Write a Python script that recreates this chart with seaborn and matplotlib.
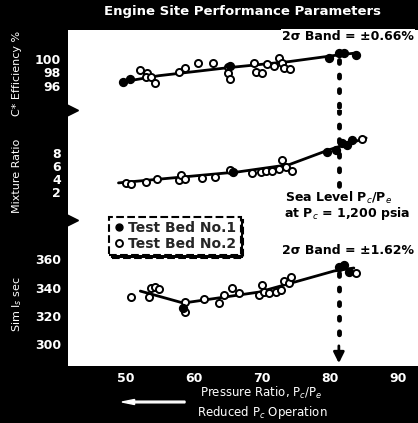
import matplotlib.pyplot as plt
import seaborn as sns
from matplotlib.lines import Line2D

# === data ===
x_ticks = [50, 60, 70, 80, 90]
design_x = 81.3  # sea level Pc/Pe at Pc = 1,200 psia

# C* efficiency, %
eff_ticks = [96, 98, 100]
eff_bed1_x = [49.7, 50.7, 65.4, 79.9, 81.3, 82.1, 83.8]
eff_bed1_y = [96.6, 97.0, 98.9, 100.1, 100.9, 100.9, 100.6]
eff_bed2_x = [52.2, 53.2, 53.1, 53.8, 54.3, 57.8, 58.7, 60.7, 62.9, 65.1, 65.1, 65.3,
              68.8, 69.1, 70.0, 70.7, 71.8, 72.5, 72.9, 73.2, 74.1]
eff_bed2_y = [98.4, 97.9, 97.3, 97.3, 96.4, 98.1, 98.7, 99.4, 99.4, 98.8, 97.9, 97.0,
              99.4, 98.1, 97.9, 99.3, 99.0, 100.1, 99.4, 98.7, 98.5]
eff_fit_x = [49.7, 54.9, 65.1, 74.0, 81.3, 84.0]
eff_fit_y = [96.6, 97.5, 98.7, 99.6, 100.6, 100.9]

# mixture ratio
mr_ticks = [2, 4, 6, 8]
mr_bed1_x = [65.8, 79.6, 80.9, 81.8, 82.5, 83.2]
mr_bed1_y = [5.0, 8.2, 8.5, 9.5, 9.2, 10.0]
mr_bed2_x = [50.1, 50.9, 53.1, 54.6, 57.8, 58.1, 58.8, 61.2, 63.2, 65.4, 68.5, 69.9,
             70.6, 71.5, 72.5, 72.9, 73.5, 74.4, 84.7]
mr_bed2_y = [3.4, 3.2, 3.5, 4.0, 3.8, 4.6, 4.0, 4.2, 4.3, 5.4, 4.9, 5.1,
             5.2, 5.2, 5.5, 6.9, 5.8, 5.2, 10.2]
mr_fit_x = [49.0, 66.6, 74.0, 79.9, 85.3]
mr_fit_y = [3.4, 5.1, 6.2, 8.5, 10.3]

# simulated Is, sec
isp_ticks = [300, 320, 340, 360]
isp_bed1_x = [58.4, 81.3, 82.1, 82.8]
isp_bed1_y = [325.5, 354.4, 355.8, 350.9]
isp_bed2_x = [50.9, 53.4, 53.8, 54.4, 54.9, 58.8, 58.8, 61.5, 63.7, 64.4, 65.6, 66.6,
              69.6, 70.0, 70.3, 71.0, 72.1, 72.8, 73.2, 74.0, 74.3, 83.8]
isp_bed2_y = [333.3, 333.3, 339.6, 340.4, 338.9, 329.8, 322.8, 331.9, 329.1, 334.7, 339.6, 336.1,
              334.7, 341.8, 336.8, 336.1, 336.8, 338.2, 344.6, 343.2, 347.4, 350.2]
isp_fit_x = [52.2, 58.5, 69.6, 80.6, 83.5]
isp_fit_y = [337.5, 329.1, 336.8, 351.6, 353.7]

# === figure ===
sns.set_style("white")
plt.rcParams['font.family'] = ['DejaVu Sans']

fig = plt.figure(figsize=(4.18, 4.23), dpi=100, facecolor='black')
W, H = 418, 423

def px_axes(top, bottom):
    return fig.add_axes([68 / W, 1 - bottom / H, 350 / W, (bottom - top) / H])

ax_eff = px_axes(30, 110)
ax_mr = px_axes(110, 220)
ax_isp = px_axes(220, 366)

panels = [
    (ax_eff, eff_bed1_x, eff_bed1_y, eff_bed2_x, eff_bed2_y, eff_fit_x, eff_fit_y, eff_ticks, (92.4, 104.3)),
    (ax_mr, mr_bed1_x, mr_bed1_y, mr_bed2_x, mr_bed2_y, mr_fit_x, mr_fit_y, mr_ticks, (-2.3, 14.6)),
    (ax_isp, isp_bed1_x, isp_bed1_y, isp_bed2_x, isp_bed2_y, isp_fit_x, isp_fit_y, isp_ticks, (284.9, 387.4)),
]

for ax, b1x, b1y, b2x, b2y, fx, fy, ticks, ylim in panels:
    ax.set_facecolor('white')
    sns.lineplot(x=fx, y=fy, sort=False, estimator=None, color='black', lw=2, ax=ax, zorder=2)
    sns.scatterplot(x=b2x, y=b2y, ax=ax, s=26, color='white', edgecolor='black', linewidth=1.4, zorder=3)
    sns.scatterplot(x=b1x, y=b1y, ax=ax, s=30, color='black', edgecolor='black', linewidth=1.2, zorder=4)
    ax.set_xlim(41.6, 92.9)
    ax.set_ylim(*ylim)
    ax.set_yticks(ticks)
    ax.set_yticklabels([str(t) for t in ticks], color='white', fontsize=9, fontweight='bold')
    ax.tick_params(axis='y', direction='in', length=9, width=1.5, color='black', pad=5)
    for s in ax.spines.values():
        s.set_visible(False)
    ax.set_xlabel('')
    ax.set_ylabel('')

for ax in (ax_eff, ax_mr):
    ax.set_xticks([])

ax_isp.set_xticks(x_ticks)
ax_isp.set_xticklabels([str(t) for t in x_ticks], color='white', fontsize=9, fontweight='bold')
ax_isp.tick_params(axis='x', direction='in', length=12, width=2, color='black', pad=4)

# break notches on left edge
for ax in (ax_mr, ax_isp):
    ax.plot([0], [1], marker='>', ms=14, color='black', transform=ax.transAxes, clip_on=False, zorder=10)

# dotted design line with arrow
dot = dict(color='black', lw=3.5, linestyle=(0, (0.6, 2.4)), dash_capstyle='round', zorder=5)
ax_eff.plot([design_x, design_x], [99.8, 92.4], **dot)
ax_mr.plot([design_x, design_x], [14.6, -2.3], **dot)
ax_isp.plot([design_x, design_x], [350, 300], **dot)
ax_isp.annotate('', xy=(design_x, 284.9), xytext=(design_x, 301),
                arrowprops=dict(arrowstyle='-|>', color='black', lw=2, mutation_scale=16), zorder=6)

# annotations
box = dict(facecolor='white', edgecolor='none', pad=0.5)
ann = dict(va='center', fontsize=9, fontweight='bold', color='black', bbox=box)
fig.text(414 / W, 1 - 36 / H, '2σ Band = ±0.66%', ha='right', **ann)
fig.text(285 / W, 1 - 198 / H, 'Sea Level P$_c$/P$_e$', ha='left', **ann)
fig.text(284 / W, 1 - 213 / H, 'at P$_c$ = 1,200 psia', ha='left', **ann)
fig.text(414 / W, 1 - 250 / H, '2σ Band = ±1.62%', ha='right', **ann)

# title and axis labels
fig.text(242 / W, 1 - 12 / H, 'Engine Site Performance Parameters', ha='center', va='center',
         fontsize=9.5, fontweight='bold', color='white')
fig.text(17 / W, 1 - 73 / H, 'C* Efficiency %', rotation=90, ha='center', va='center', fontsize=8, color='white')
fig.text(17 / W, 1 - 176 / H, 'Mixture Ratio', rotation=90, ha='center', va='center', fontsize=8, color='white')
fig.text(17 / W, 1 - 304 / H, 'Sim I$_s$ sec', rotation=90, ha='center', va='center', fontsize=8, color='white')
fig.text(261 / W, 1 - 393 / H, 'Pressure Ratio, P$_c$/P$_e$', ha='center', va='center', fontsize=8.5, color='white')
fig.text(262 / W, 1 - 412 / H, 'Reduced P$_c$ Operation', ha='center', va='center', fontsize=8.5, color='white')
fig.patches.append(plt.Arrow(185 / W, 1 - 402 / H, -63 / W, 0, width=0.02, color='white',
                             transform=fig.transFigure, figure=fig))

# legend
handles = [Line2D([], [], marker='o', ls='', ms=5, mfc='black', mec='black', label='Test Bed No.1'),
           Line2D([], [], marker='o', ls='', ms=5, mfc='white', mec='black', mew=1.4, label='Test Bed No.2')]
leg = fig.legend(handles=handles, loc='upper left', bbox_to_anchor=(102 / W, 1 - 210 / H),
                 fancybox=False, shadow={'color': 'black', 'alpha': 1}, framealpha=1,
                 edgecolor='black', prop={'weight': 'bold', 'size': 10},
                 handletextpad=0.2, borderpad=0.3, labelspacing=0.15, handlelength=0.9)
leg.get_frame().set_linestyle('--')
leg.get_frame().set_linewidth(1.5)

fig.savefig('out.png', dpi=100, facecolor='black')
